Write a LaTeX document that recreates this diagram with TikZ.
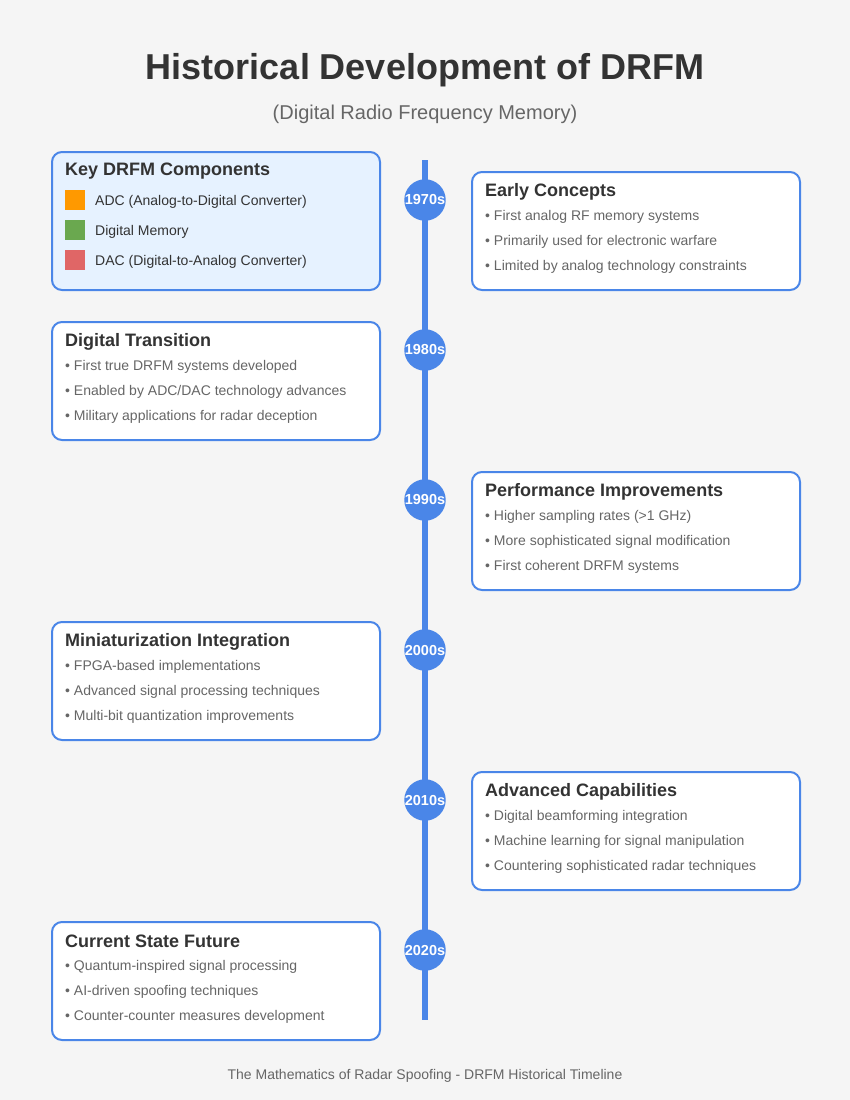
\documentclass[tikz,border=0pt]{standalone}
\usepackage{fontspec}
\setmainfont{Liberation Sans}
\definecolor{bg}{HTML}{F5F5F5}
\definecolor{blu}{HTML}{4A86E8}
\definecolor{keyfill}{HTML}{E6F2FF}
\definecolor{dark}{HTML}{333333}
\definecolor{mid}{HTML}{666666}
\definecolor{cadc}{HTML}{FF9900}
\definecolor{cmem}{HTML}{6AA84F}
\definecolor{cdac}{HTML}{E06666}
\tikzset{
  card/.style={draw=blu, line width=2pt, rounded corners=10pt, fill=white, anchor=north west, minimum width=328pt, minimum height=118pt, inner sep=0pt},
  cardtitle/.style={anchor=west, inner sep=0pt, text=dark, font=\fontsize{18}{20}\selectfont\bfseries},
  bullet/.style={anchor=west, inner sep=0pt, text=mid, font=\fontsize{14}{16}\selectfont},
  keytext/.style={anchor=west, inner sep=0pt, text=dark, font=\fontsize{14}{16}\selectfont},
  swatch/.style={anchor=north west, minimum width=20pt, minimum height=20pt, inner sep=0pt},
  era/.style={circle, fill=blu, minimum size=40pt, inner sep=0pt, text=white, font=\fontsize{14.5}{16}\selectfont\bfseries},
}
\newcommand{\mycard}[6]{%
  \node[card] (c#1) at (#2+1,#3+1) {};
  \node[cardtitle] (c#1t) at (#2+15,#3+21.5) {#4};
  \node[bullet] (c#1a) at (#2+15,#3+46.5) {\textbullet\ #5};
  \node[bullet] (c#1b) at (#2+15,#3+71.5) {\textbullet\ #6};
}
\newcommand{\mythird}[4]{\node[bullet] (c#1c) at (#2+15,#3+96.5) {\textbullet\ #4};}
\begin{document}
\begin{tikzpicture}[x=1pt,y=-1pt]
\fill[bg] (0,0) rectangle (850,1100);
\useasboundingbox (0,0) rectangle (850,1100);
\node[text=dark, font=\fontsize{36}{40}\selectfont\bfseries] (title) at (425,70) {Historical Development of DRFM};
\node[text=mid, font=\fontsize{20}{24}\selectfont] (sub) at (425,114) {(Digital Radio Frequency Memory)};
% timeline
\coordinate (ltop) at (425,160);
\coordinate (lbot) at (425,1020);
\draw[blu, line width=6pt] (ltop) -- (lbot);
% key box
\node[card, fill=keyfill, minimum height=138pt] (key) at (51,151) {};
\node[cardtitle] (keyt) at (65,171.5) {Key DRFM Components};
\node[swatch, fill=cadc] (s1) at (65,190) {};
\node[keytext] (k1) at (95,201.5) {ADC (Analog-to-Digital Converter)};
\node[swatch, fill=cmem] (s2) at (65,220) {};
\node[keytext] (k2) at (95,231.5) {Digital Memory};
\node[swatch, fill=cdac] (s3) at (65,250) {};
\node[keytext] (k3) at (95,261.5) {DAC (Digital-to-Analog Converter)};
% cards
\mycard{1}{470}{170}{Early Concepts}{First analog RF memory systems}{Primarily used for electronic warfare}
\mythird{1}{470}{170}{Limited by analog technology constraints}
\mycard{2}{50}{320}{Digital Transition}{First true DRFM systems developed}{Enabled by ADC/DAC technology advances}
\mythird{2}{50}{320}{Military applications for radar deception}
\mycard{3}{470}{470}{Performance Improvements}{Higher sampling rates (>1 GHz)}{More sophisticated signal modification}
\mythird{3}{470}{470}{First coherent DRFM systems}
\mycard{4}{50}{620}{Miniaturization Integration}{FPGA-based implementations}{Advanced signal processing techniques}
\mythird{4}{50}{620}{Multi-bit quantization improvements}
\mycard{5}{470}{770}{Advanced Capabilities}{Digital beamforming integration}{Machine learning for signal manipulation}
\mythird{5}{470}{770}{Countering sophisticated radar techniques}
\mycard{6}{50}{920}{Current State Future}{Quantum-inspired signal processing}{AI-driven spoofing techniques}
\mythird{6}{50}{920}{Counter-counter measures development}
% eras
\node[era] (e1) at (425,200) {1970s};
\node[era] (e2) at (425,350) {1980s};
\node[era] (e3) at (425,500) {1990s};
\node[era] (e4) at (425,650) {2000s};
\node[era] (e5) at (425,800) {2010s};
\node[era] (e6) at (425,950) {2020s};
\node[text=mid, font=\fontsize{14}{16}\selectfont] (foot) at (425,1076) {The Mathematics of Radar Spoofing - DRFM Historical Timeline};
\end{tikzpicture}
\end{document}
